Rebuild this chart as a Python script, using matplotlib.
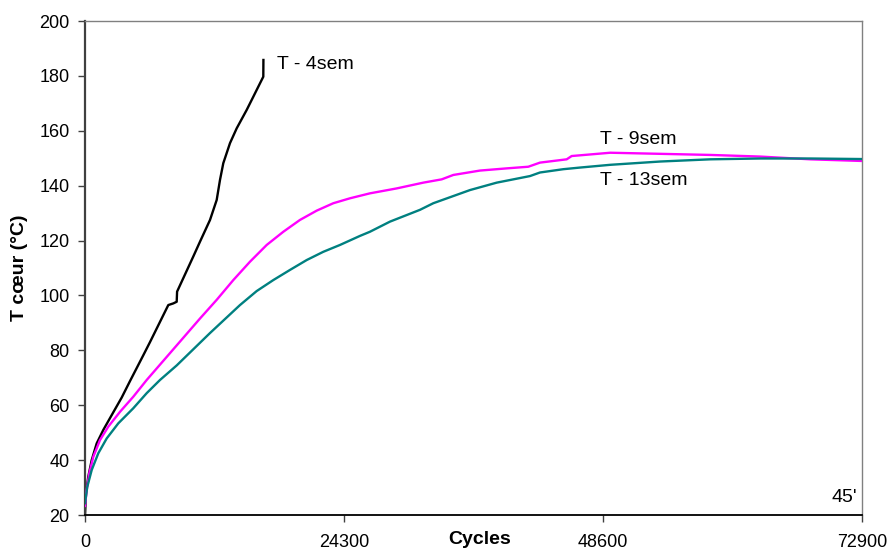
"""
Core temperature vs cycles for three storage ages (4, 9 and 13 weeks).
"""

import matplotlib
matplotlib.use('Agg')
import matplotlib.pyplot as plt

plt.rcParams['font.family'] = ['Liberation Sans', 'DejaVu Sans']

# T - 4sem
cycles_4 = [0, 94, 310, 629, 1098, 1717, 2505, 3443, 4222, 5442, 6098, 7815,
            8285, 8603, 8640, 10161, 10790, 11728, 12356, 12666, 12976, 13604,
            14233, 15171, 15790, 16110, 16729, 16740]
temp_4 = [20, 27.9, 34, 40, 46.1, 51, 56.4, 62.8, 68.8, 78, 83, 96.5,
          97.1, 97.7, 101.4, 114.2, 119.6, 127.5, 134.8, 142.1, 148.2, 155.5,
          160.9, 167.6, 172.4, 174.9, 179.7, 185.8]

# T - 9sem
cycles_9 = [0, 159, 403, 779, 1407, 2186, 3284, 4532, 5789, 8603, 10790,
            12356, 13914, 15481, 17048, 18605, 20162, 21738, 23296, 24863,
            26730, 29244, 31740, 33466, 34554, 37051, 39565, 41592, 42690,
            45194, 45663, 49282, 53974, 58665, 63356, 68047, 72900]
temp_9 = [23.3, 29.1, 35.2, 41.2, 47.3, 52.2, 57.6, 63.1, 69.2, 81.8, 91.6,
          98.4, 105.6, 112.3, 118.4, 123.2, 127.5, 130.9, 133.6, 135.4,
          137.2, 139, 141.1, 142.3, 143.9, 145.5, 146.3, 146.9, 148.4,
          149.6, 150.8, 152, 151.6, 151.2, 150.6, 149.6, 149]

# T - 13sem
cycles_13 = [0, 216, 629, 1248, 2036, 3124, 4532, 5789, 7037, 8603, 11728,
             14542, 16109, 17667, 19233, 20800, 22357, 23925, 25801, 26730,
             28615, 31430, 32678, 36122, 38626, 41752, 42690, 44876, 46447,
             49282, 53974, 58665, 63356, 68047, 72900]
temp_13 = [24.3, 30.3, 36.4, 42.5, 47.9, 53.4, 58.9, 64.4, 69.2, 74.5, 86.3,
           96.5, 101.6, 105.6, 109.3, 112.9, 115.9, 118.4, 121.7, 123.2,
           126.9, 131.2, 133.6, 138.4, 141.1, 143.5, 144.8, 146, 146.6,
           147.6, 148.8, 149.6, 149.9, 149.9, 149.7]

x_ticks = [0, 24300, 48600, 72900]
y_ticks = list(range(20, 201, 20))

fig = plt.figure(figsize=(8.9, 5.52), dpi=100, facecolor='white')
ax = fig.add_axes([85 / 890, 37 / 552, 777 / 890, 494 / 552])

ax.plot(cycles_4, temp_4, color='black', linewidth=1.7, zorder=2,
        solid_joinstyle='round')
ax.plot(cycles_9, temp_9, color='#FF00FF', linewidth=1.7, zorder=3,
        solid_joinstyle='round')
ax.plot(cycles_13, temp_13, color='#008080', linewidth=1.7, zorder=4,
        solid_joinstyle='round')

ax.set_xlim(0, 72900)
ax.set_ylim(20, 200)
ax.set_xticks(x_ticks)
ax.set_yticks(y_ticks)
ax.tick_params(axis='both', direction='out', length=5, width=1,
               colors='#404040', labelcolor='black', labelsize=13)
ax.tick_params(axis='y', pad=6)
ax.tick_params(axis='x', pad=9)

# spines
ax.spines['left'].set_color('#404040')
ax.spines['left'].set_linewidth(1.6)
ax.spines['bottom'].set_color('black')
ax.spines['bottom'].set_linewidth(1.3)
ax.spines['top'].set_color('#808080')
ax.spines['right'].set_color('#808080')
ax.spines['top'].set_linewidth(1.0)
ax.spines['right'].set_linewidth(1.0)

ax.set_ylabel('T cœur (°C)', fontsize=14, fontweight='bold', labelpad=8)
ax.text(0.508, -0.0506, 'Cycles', transform=ax.transAxes, ha='center',
        va='center', fontsize=14, fontweight='bold')

# curve labels
ax.text(18014, 184, 'T - 4sem', fontsize=14, ha='left', va='center')
ax.text(48318, 156.7, 'T - 9sem', fontsize=14, ha='left', va='center')
ax.text(48318, 141.8, 'T - 13sem', fontsize=14, ha='left', va='center')
ax.text(0.994, 0.036, "45'", transform=ax.transAxes, ha='right',
        va='center', fontsize=14)

fig.savefig('out.png', dpi=100, facecolor='white')
